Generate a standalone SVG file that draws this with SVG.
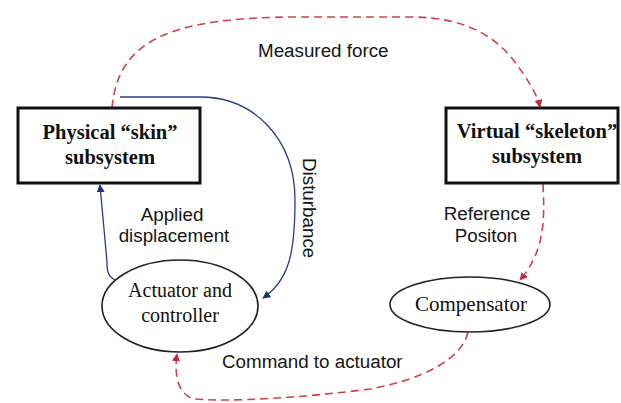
<svg xmlns="http://www.w3.org/2000/svg" width="621" height="403" viewBox="0 0 621 403">
  <style>
    .box { fill: #ffffff; stroke: #111111; stroke-width: 3; }
    .ell { fill: #ffffff; stroke: #222222; stroke-width: 1.6; }
    .ntxt { font-family: "Liberation Serif", "Times New Roman", serif; fill: #111111; text-anchor: middle; }
    .bold { font-weight: bold; font-size: 20.5px; }
    .reg { font-size: 20px; }
    .lbl { font-family: "Liberation Sans", Arial, sans-serif; font-size: 18.8px; fill: #151515; }
    .red { fill: none; stroke: #d2404f; stroke-width: 1.6; stroke-dasharray: 8 5; }
    .blue { fill: none; stroke: #2a3b88; stroke-width: 1.3; }
  </style>
  <defs>
    <marker id="arrowRed" viewBox="0 0 10 10" refX="9" refY="5" markerWidth="8" markerHeight="8" markerUnits="userSpaceOnUse" orient="auto">
      <path d="M0,0 L10,5 L0,10 z" fill="#c8283a"/>
    </marker>
    <marker id="arrowBlue" viewBox="0 0 10 10" refX="9" refY="5" markerWidth="8" markerHeight="8" markerUnits="userSpaceOnUse" orient="auto">
      <path d="M0,0 L10,5 L0,10 z" fill="#1f2f80"/>
    </marker>
  </defs>
  <rect width="621" height="403" fill="#ffffff"/>

  <g id="connectors">
    <!-- measured force: skin -> skeleton -->
    <path class="red" d="M112,108 C118,40 170,17 300,17 L410,17 C470,17 498,40 515,62 C528,80 537,94 540,107" marker-end="url(#arrowRed)"/>
    <!-- reference position: skeleton -> compensator -->
    <path class="red" d="M543,184 C545,222 544,252 520,280" marker-end="url(#arrowRed)"/>
    <!-- command to actuator: compensator -> actuator -->
    <path class="red" d="M468,332 C462,360 420,380 370,389 C300,398 230,402 195,399 C178,396 174,375 177,354" marker-end="url(#arrowRed)"/>
    <!-- disturbance: skin -> actuator -->
    <path class="blue" d="M120,97 L200,97 C255,97 295,140 295,200 C295,250 290,280 263,298" marker-end="url(#arrowBlue)"/>
    <!-- applied displacement: actuator -> skin -->
    <path class="blue" d="M115,280 C108,276 107,272 107,262 L100,185" marker-end="url(#arrowBlue)"/>
  </g>

  <g id="skin">
    <rect class="box" x="18" y="108" width="182" height="75"/>
    <text class="ntxt bold" x="110" y="139">Physical “skin”</text>
    <text class="ntxt bold" x="110" y="164">subsystem</text>
  </g>

  <g id="skeleton">
    <rect class="box" x="446" y="108" width="172" height="75"/>
    <text class="ntxt bold" x="537" y="138">Virtual “skeleton”</text>
    <text class="ntxt bold" x="537" y="163">subsystem</text>
  </g>

  <g id="actuator">
    <ellipse class="ell" cx="180" cy="306" rx="78" ry="46"/>
    <text class="ntxt reg" x="180" y="297">Actuator and</text>
    <text class="ntxt reg" x="180" y="322">controller</text>
  </g>

  <g id="compensator">
    <ellipse class="ell" cx="470" cy="304.5" rx="80" ry="27.5"/>
    <text class="ntxt" style="font-size:21px" x="471" y="311">Compensator</text>
  </g>

  <g id="labels">
    <text class="lbl" x="258" y="57">Measured force</text>
    <text class="lbl" x="172" y="221" text-anchor="middle">Applied</text>
    <text class="lbl" x="174" y="242" text-anchor="middle">displacement</text>
    <text class="lbl" x="487" y="220" text-anchor="middle">Reference</text>
    <text class="lbl" x="486" y="242" text-anchor="middle">Positon</text>
    <text class="lbl" x="222" y="368">Command to actuator</text>
    <text class="lbl" transform="translate(303,158) rotate(90)">Disturbance</text>
  </g>
</svg>
